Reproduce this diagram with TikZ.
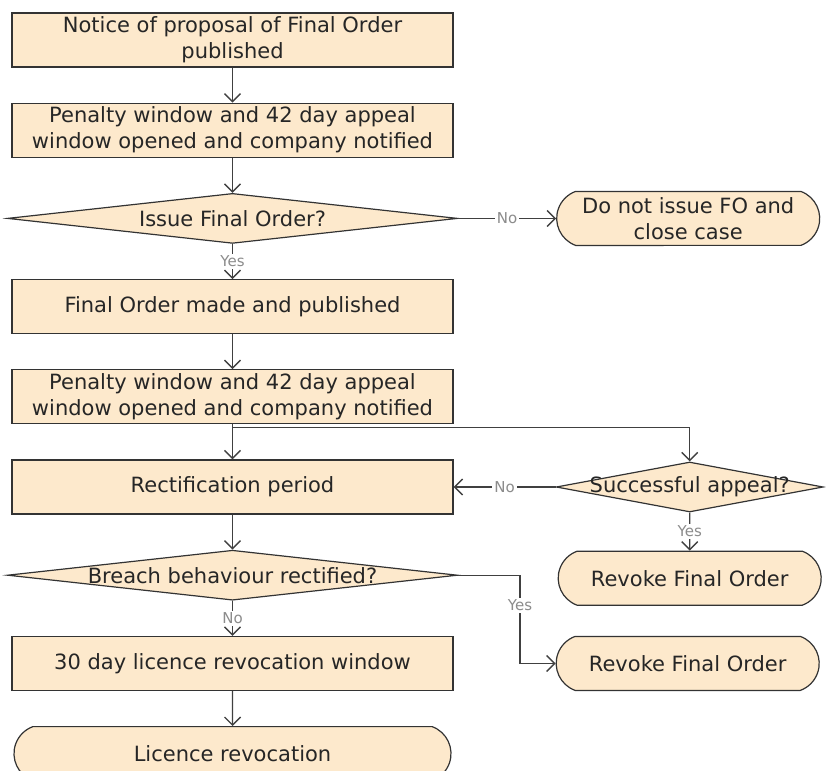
\documentclass[tikz,border=0pt]{standalone}
\usepackage{fontspec}
\setmainfont{DejaVu Sans}
\usetikzlibrary{shapes.geometric, shapes.misc, arrows.meta, positioning}

\definecolor{boxfill}{RGB}{253,233,204}

\begin{document}
\begin{tikzpicture}[
        node distance=17.5pt and 51pt,
        font=\fontsize{10.5}{13}\selectfont,
        text=black!85,
        box/.style={rectangle, draw=black!80, line width=0.6pt, fill=boxfill, align=center, minimum width=220.5pt, minimum height=27pt, inner sep=1pt},
        decision/.style={diamond, draw=black!80, line width=0.6pt, fill=boxfill, minimum width=225pt, minimum height=25pt, inner sep=0pt},
        smalldecision/.style={decision, minimum width=133.5pt},
        terminal/.style={rounded rectangle, rounded rectangle arc length=140, draw=black!80, line width=0.6pt, fill=boxfill, align=center, minimum width=220.5pt, minimum height=27pt, inner sep=1pt},
        smallterminal/.style={terminal, minimum width=133.5pt},
        arrow/.style={-{Straight Barb[length=4pt, width=8pt]}, line width=0.7pt, draw=black!75},
        lbl/.style={fill=white, text=black!45, font=\fontsize{7.5}{8}\selectfont, inner sep=1pt}
        ]
        \useasboundingbox (0,0) rectangle (413pt,-385.5pt);

        \node (notice) [box] at (116.25pt,-20pt) {Notice of proposal of Final Order\\published};
        \node (penaltyA) [box, below=of notice] {Penalty window and 42 day appeal\\window opened and company notified};
        \node (issue) [decision, below=of penaltyA] {\makebox[0pt]{Issue Final Order?}};
        \node (donot) [smallterminal, right=49pt of issue] {Do not issue FO and\\close case};
        \node (final) [box, below=of issue] {Final Order made and published};
        \node (penaltyB) [box, below=of final] {Penalty window and 42 day appeal\\window opened and company notified};
        \node (rectify) [box, below=of penaltyB] {Rectification period};
        \node (appeal) [smalldecision, right=of rectify] {\makebox[0pt]{Successful appeal?}};
        \node (revokeA) [smallterminal, below=19pt of appeal] {Revoke Final Order};
        \node (breach) [decision, below=of rectify] {\makebox[0pt]{Breach behaviour rectified?}};
        \node (window) [box, below=of breach] {30 day licence revocation window};
        \node (revokeB) [smallterminal, right=of window] {Revoke Final Order};
        \node (revocation) [terminal, below=of window] {Licence revocation};

        \draw [arrow] (notice) -- (penaltyA);
        \draw [arrow] (penaltyA) -- (issue);
        \draw [arrow] (issue) -- node[lbl] {Yes} (final);
        \draw [arrow] (issue) -- node[lbl] {No} (donot);
        \draw [arrow] (final) -- (penaltyB);
        \draw [arrow] (penaltyB) -- (rectify);
        \draw [arrow] (penaltyB.south) -- ++(0,-1.5pt) -| (appeal.north);
        \draw [arrow] (appeal) -- node[lbl] {No} (rectify);
        \draw [arrow] (appeal) -- node[lbl] {Yes} (revokeA);
        \draw [arrow] (rectify) -- (breach);
        \draw [arrow] (breach) -- node[lbl] {No} (window);
        \draw [arrow] (breach.east) -- ++(31pt,0) |- node[lbl, pos=0.17] {Yes} (revokeB.west);
        \draw [arrow] (window) -- (revocation);
    \end{tikzpicture}
\end{document}
